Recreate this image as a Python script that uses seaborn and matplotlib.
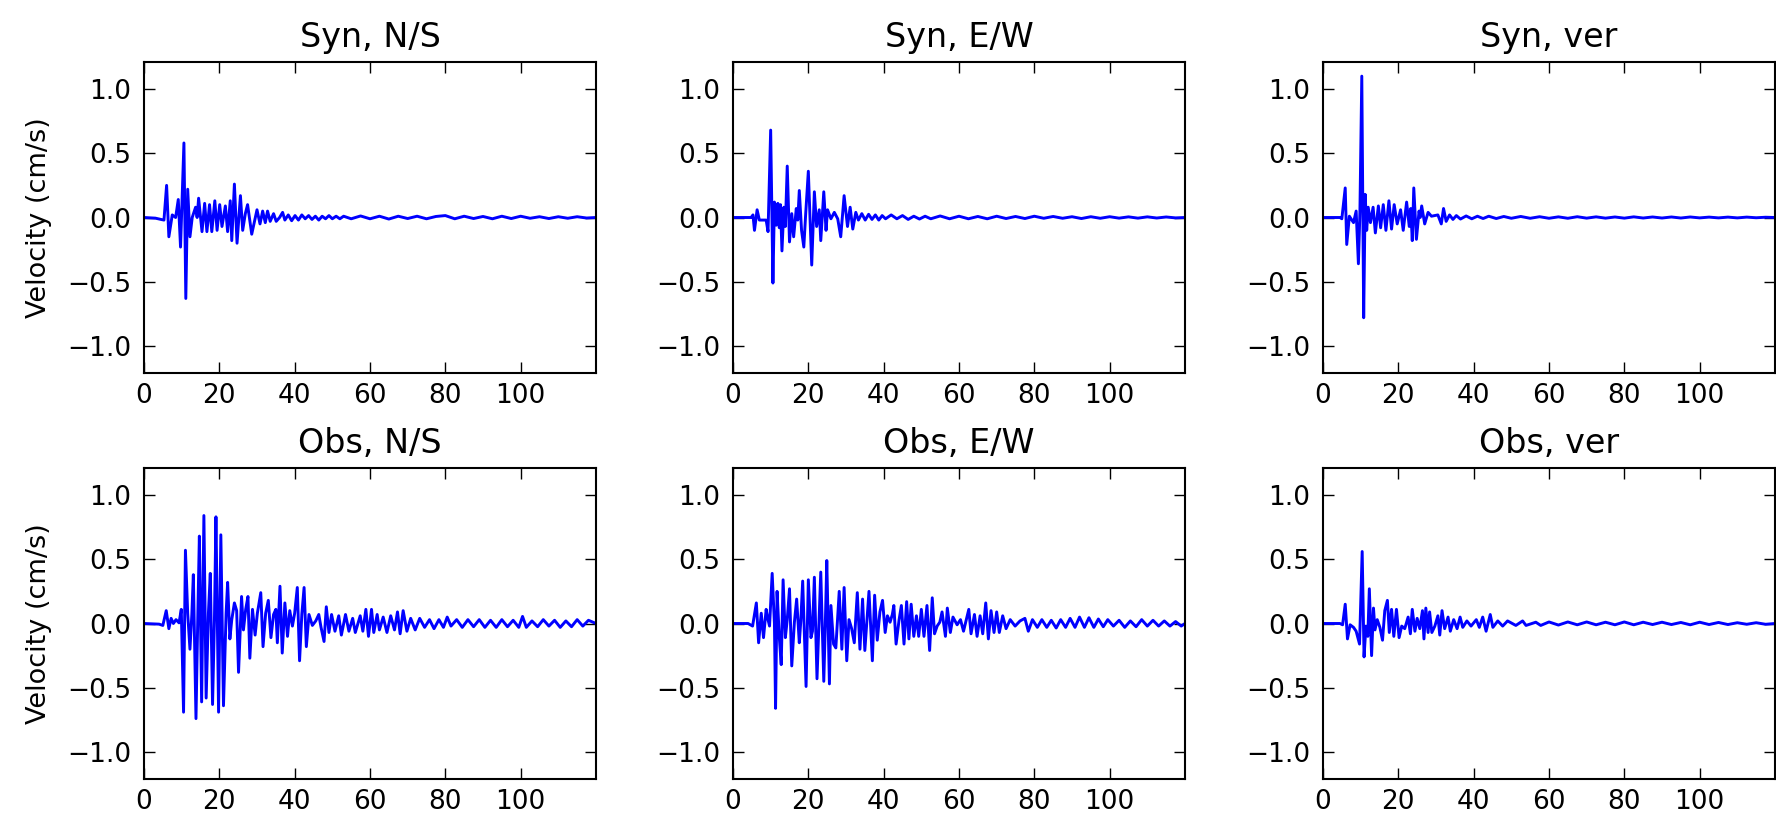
import numpy as np
import pandas as pd
import matplotlib
matplotlib.use("Agg")
import matplotlib.pyplot as plt
import seaborn as sns

# ---------------- data (time in s, velocity in cm/s) ----------------
syn_ns_t = [0, 3.0, 4.5, 5.3, 6.0, 6.6, 7.5, 8.4, 9.1, 9.7, 10.6, 11.1, 11.6, 12.2, 12.8, 13.7, 14.1, 14.5,
            15.4, 16.1, 16.7, 17.4, 18.0, 18.8, 19.4, 20.1, 20.7, 21.6, 22.2, 22.9, 23.3, 24.0, 24.7, 25.6,
            26.2, 26.9, 27.5, 28.6, 30.0, 30.8, 31.5, 32.2, 32.8, 33.5, 34.4, 35.1, 36.0, 36.8, 37.4, 38.3,
            39.2, 40.1, 41.0, 41.9, 42.8, 43.7, 44.6, 45.5, 46.4, 47.3, 48.2, 49.1, 50.0, 51.0, 52.0, 53.0,
            55.0, 57.5, 60.0, 62.5, 65.0, 67.5, 70.0, 72.5, 75.0, 77.5, 80.0, 82.5, 85.0, 87.5, 90.0, 92.5,
            95.0, 97.5, 100.0, 102.5, 105.0, 107.5, 110.0, 112.5, 115.0, 117.5, 120.0]
syn_ns_v = [0.0, -0.005, -0.015, -0.02, 0.25, -0.15, 0.02, 0.0, 0.14, -0.23, 0.58, -0.63, 0.22, -0.15, 0.0,
            0.08, 0.0, 0.15, -0.11, 0.11, -0.11, 0.10, -0.11, 0.13, -0.10, 0.10, -0.07, 0.09, -0.11, 0.13,
            -0.18, 0.26, -0.20, 0.17, -0.10, 0.03, 0.10, -0.13, 0.06, -0.05, 0.05, -0.04, 0.05, -0.03, 0.03,
            -0.03, 0.0, 0.04, -0.02, 0.02, -0.025, 0.015, -0.02, 0.02, -0.01, 0.015, -0.015, 0.01, -0.02,
            0.01, -0.01, 0.015, -0.01, 0.01, -0.01, 0.01, -0.01, 0.012, -0.01, 0.01, -0.012, 0.01, -0.008,
            0.01, -0.01, 0.008, 0.015, -0.01, 0.01, -0.008, 0.008, -0.01, 0.01, -0.008, 0.01, -0.006, 0.006,
            -0.008, 0.006, -0.006, 0.006, -0.004, 0.0]

syn_ew_t = [0, 4.8, 5.3, 5.7, 6.4, 7.0, 8.8, 9.3, 10.0, 10.6, 11.0, 11.5, 11.9, 12.3, 12.6, 13.0, 13.5, 13.9,
            14.4, 15.0, 15.6, 16.1, 16.8, 17.2, 17.6, 18.2, 18.8, 19.3, 20.0, 20.9, 21.6, 22.2, 22.9, 23.3,
            24.1, 24.7, 25.1, 26.0, 26.9, 27.8, 28.6, 29.5, 30.4, 31.1, 31.8, 32.6, 33.3, 34.2, 35.1, 36.0,
            36.9, 37.8, 38.7, 39.6, 40.5, 42.0, 43.5, 45.0, 46.5, 48.0, 49.5, 51.0, 52.5, 55.0, 57.5, 60.0,
            62.5, 65.0, 67.5, 70.0, 72.5, 75.0, 77.5, 80.0, 82.5, 85.0, 87.5, 90.0, 92.5, 95.0, 97.5, 100.0,
            102.5, 105.0, 107.5, 110.0, 112.5, 115.0, 117.5, 120.0]
syn_ew_v = [0.0, 0.0, 0.02, -0.10, 0.06, -0.02, -0.02, -0.11, 0.68, -0.51, 0.12, -0.06, 0.11, -0.08, 0.10,
            -0.26, 0.08, -0.07, 0.40, -0.19, 0.03, -0.15, 0.07, -0.02, 0.21, -0.10, -0.23, 0.03, 0.36, -0.37,
            0.20, -0.07, 0.06, -0.18, 0.20, -0.10, 0.06, -0.01, 0.04, -0.01, -0.15, 0.17, -0.07, 0.08, -0.09,
            0.04, -0.02, 0.03, -0.02, 0.025, -0.015, 0.02, -0.02, 0.015, -0.01, 0.02, -0.01, 0.015, -0.015,
            0.01, -0.012, 0.01, -0.01, 0.012, -0.01, 0.01, -0.01, 0.008, -0.01, 0.01, -0.008, 0.008, -0.008,
            0.01, -0.006, 0.008, -0.006, 0.006, -0.008, 0.006, -0.006, 0.006, -0.005, 0.005, -0.005, 0.005,
            -0.004, 0.004, -0.003, 0.0]

syn_ver_t = [0, 4.5, 5.0, 5.9, 6.3, 7.0, 8.1, 8.8, 9.4, 9.8, 10.3, 10.8, 11.2, 11.6, 12.0, 12.6, 13.3, 13.9,
             14.7, 15.3, 16.0, 16.7, 17.5, 18.2, 18.9, 19.7, 20.6, 21.3, 22.2, 22.9, 23.3, 23.7, 24.1, 24.8,
             25.5, 25.8, 26.2, 27.0, 27.9, 28.8, 30.5, 31.4, 32.0, 32.7, 33.6, 34.5, 35.4, 36.5, 38.0, 39.5,
             41.0, 42.5, 44.0, 46.0, 48.0, 50.0, 52.5, 55.0, 57.5, 60.0, 62.5, 65.0, 67.5, 70.0, 72.5, 75.0,
             77.5, 80.0, 82.5, 85.0, 87.5, 90.0, 92.5, 95.0, 97.5, 100.0, 102.5, 105.0, 107.5, 110.0, 112.5,
             115.0, 117.5, 120.0]
syn_ver_v = [0.0, 0.0, -0.01, 0.23, -0.21, 0.01, -0.04, 0.05, -0.36, 0.04, 1.10, -0.78, 0.18, -0.10, 0.08,
             -0.04, 0.08, -0.12, 0.09, -0.08, 0.10, -0.10, 0.13, -0.09, 0.10, -0.05, 0.06, -0.10, 0.12, -0.07,
             0.07, -0.18, 0.23, -0.17, 0.05, 0.0, 0.09, -0.05, 0.04, 0.01, 0.02, -0.05, 0.07, -0.03, 0.02,
             -0.015, 0.015, -0.012, 0.012, -0.01, 0.01, -0.008, 0.01, -0.008, 0.008, -0.006, 0.008, -0.006,
             0.006, -0.006, 0.005, -0.006, 0.006, -0.005, 0.005, -0.005, 0.004, -0.005, 0.005, -0.004, 0.004,
             -0.004, 0.004, -0.004, 0.004, -0.003, 0.003, -0.003, 0.003, -0.003, 0.003, -0.002, 0.002, 0.0]

obs_ns_t = [0, 4.0, 5.0, 5.9, 6.6, 7.2, 7.8, 8.5, 9.3, 9.9, 10.5, 11.0, 11.6, 12.2, 12.7, 13.1, 13.8, 14.3,
            14.7, 15.3, 15.9, 16.5, 17.1, 17.6, 18.2, 18.7, 19.1, 19.8, 20.4, 21.1, 21.8, 22.2, 22.8, 23.3,
            24.0, 24.6, 25.1, 25.9, 26.4, 27.0, 27.6, 28.1, 28.8, 29.5, 30.1, 31.0, 31.6, 32.3, 33.0, 33.7,
            34.4, 35.0, 35.4, 36.1, 36.7, 37.4, 38.1, 38.7, 39.4, 40.0, 40.7, 41.3, 41.9, 42.5, 43.1, 43.8,
            44.7, 45.6, 46.4, 47.0, 47.8, 48.4, 49.1, 49.8, 50.7, 51.7, 52.4, 53.5, 54.4, 55.4, 56.1, 57.4,
            58.1, 58.9, 59.6, 60.4, 61.0, 61.9, 62.5, 63.5, 64.5, 65.5, 66.5, 67.3, 68.0, 68.8, 69.8, 70.8,
            72.0, 73.2, 74.5, 75.8, 77.0, 78.3, 79.5, 80.5, 81.5, 83.0, 84.5, 86.0, 87.5, 89.0, 90.5, 92.0,
            93.5, 95.0, 96.5, 98.0, 99.5, 100.5, 101.5, 103.0, 104.5, 106.0, 107.5, 109.0, 110.5, 112.0,
            113.5, 115.0, 116.5, 118.0, 120.0]
obs_ns_v = [0.0, -0.005, -0.015, 0.10, -0.04, 0.04, 0.0, 0.03, 0.005, 0.11, -0.69, 0.57, 0.08, -0.20, 0.07,
            0.38, -0.74, 0.08, 0.68, -0.61, 0.84, -0.58, 0.08, 0.39, -0.63, 0.03, 0.83, -0.69, 0.69, -0.64,
            0.08, 0.32, -0.12, 0.03, 0.16, 0.10, -0.38, 0.21, -0.05, 0.11, 0.21, -0.27, 0.11, -0.09, 0.08,
            0.24, -0.18, 0.08, 0.18, -0.11, 0.07, 0.11, -0.15, 0.29, -0.23, 0.16, -0.10, 0.10, -0.02, 0.08,
            0.28, -0.29, 0.07, 0.28, -0.18, 0.07, -0.015, 0.02, 0.07, -0.03, -0.14, 0.13, -0.07, 0.07, -0.06,
            0.06, -0.09, 0.07, -0.06, 0.04, -0.07, 0.06, -0.06, 0.11, -0.10, 0.11, -0.07, 0.07, -0.05, 0.05,
            -0.07, 0.06, -0.05, 0.09, -0.08, 0.10, -0.06, 0.04, -0.05, 0.04, -0.03, 0.03, -0.04, 0.03, -0.03,
            0.05, -0.02, 0.03, -0.03, 0.03, -0.025, 0.03, -0.03, 0.025, -0.03, 0.03, -0.025, 0.025, -0.03,
            0.055, -0.03, 0.02, -0.025, 0.03, -0.02, 0.025, -0.03, 0.02, -0.025, 0.03, -0.02, 0.025, 0.0]

obs_ew_t = [0, 4.0, 5.2, 6.2, 6.8, 7.5, 8.1, 8.8, 9.3, 9.7, 10.4, 11.0, 11.3, 11.7, 12.3, 12.8, 13.3, 13.9,
            14.4, 15.0, 15.6, 16.3, 16.9, 17.6, 18.0, 18.5, 19.4, 20.0, 20.7, 21.1, 21.6, 22.3, 22.9, 23.3,
            24.1, 24.5, 24.9, 25.6, 26.0, 26.7, 27.3, 28.2, 28.9, 29.5, 30.2, 30.8, 31.5, 32.2, 33.0, 33.7,
            34.4, 35.0, 36.1, 37.0, 37.6, 38.3, 39.0, 39.7, 40.4, 41.0, 41.7, 42.3, 42.7, 43.3, 44.1, 44.7,
            45.4, 46.1, 46.7, 47.3, 48.0, 48.7, 49.3, 50.0, 50.7, 51.5, 52.2, 52.9, 53.5, 54.2, 54.9, 55.5,
            56.4, 56.9, 57.7, 58.4, 59.5, 60.4, 61.2, 62.6, 63.2, 64.1, 64.8, 65.6, 66.3, 67.1, 67.8, 68.5,
            69.3, 70.0, 70.7, 71.6, 72.5, 73.6, 74.9, 76.2, 77.5, 78.4, 79.5, 80.8, 82.0, 83.3, 84.5, 85.8,
            87.0, 88.3, 89.5, 90.8, 92.0, 93.3, 94.5, 95.8, 97.0, 98.3, 99.5, 101.0, 102.5, 104.0, 105.5,
            107.0, 108.5, 110.0, 111.5, 113.0, 114.5, 116.0, 117.5, 119.0, 120.0]
obs_ew_v = [0.0, 0.0, -0.02, 0.16, -0.15, 0.08, -0.11, 0.11, 0.03, -0.02, 0.39, 0.0, -0.66, 0.25, -0.11,
            -0.32, 0.34, -0.11, 0.03, 0.27, -0.33, 0.01, 0.19, -0.15, 0.02, 0.33, -0.49, 0.34, -0.11, -0.06,
            0.36, -0.43, 0.06, 0.40, -0.45, -0.02, 0.49, -0.47, 0.14, -0.16, -0.19, 0.25, -0.20, 0.28, -0.29,
            0.03, -0.04, -0.15, 0.24, -0.20, 0.19, -0.21, 0.25, -0.29, 0.22, -0.13, 0.09, 0.18, -0.07, 0.06,
            0.01, 0.07, 0.14, -0.16, 0.03, 0.14, -0.16, 0.17, -0.12, 0.15, -0.10, 0.06, -0.10, 0.11, -0.10,
            0.14, -0.21, 0.20, -0.08, -0.02, 0.01, 0.09, -0.10, 0.12, -0.07, 0.05, -0.01, 0.03, -0.06, 0.11,
            -0.08, 0.07, -0.10, 0.06, -0.08, 0.16, -0.12, 0.10, -0.07, 0.09, -0.07, 0.06, -0.04, 0.03, -0.02,
            0.02, 0.04, -0.06, 0.03, -0.03, 0.03, -0.03, 0.025, -0.035, 0.03, -0.03, 0.04, -0.03, 0.05, -0.03,
            0.045, -0.03, 0.035, -0.025, 0.03, -0.02, 0.025, -0.03, 0.02, -0.025, 0.03, -0.02, 0.025, -0.02,
            0.02, -0.02, 0.015, -0.02, 0.0]

obs_ver_t = [0, 4.5, 5.2, 5.9, 6.5, 7.2, 8.1, 8.8, 9.7, 10.4, 10.9, 11.4, 11.9, 12.3, 12.9, 13.4, 13.8, 14.4,
             15.1, 15.8, 16.4, 17.1, 17.6, 18.2, 18.8, 19.5, 20.2, 20.9, 21.7, 22.6, 23.2, 23.7, 24.4, 25.0,
             25.7, 26.4, 26.8, 27.3, 27.9, 28.3, 28.9, 29.7, 30.5, 31.0, 31.6, 32.3, 33.2, 33.8, 34.7, 35.6,
             36.4, 37.1, 38.2, 39.3, 40.7, 41.5, 42.4, 43.3, 44.4, 45.1, 46.4, 47.7, 49.0, 51.2, 53.0, 53.9,
             56.5, 57.8, 60.0, 62.5, 65.0, 67.5, 70.0, 72.5, 75.0, 77.5, 80.0, 82.5, 85.0, 87.5, 90.0, 92.5,
             95.0, 97.5, 100.0, 102.5, 105.0, 107.5, 110.0, 112.5, 115.0, 117.5, 120.0]
obs_ver_v = [0.0, 0.0, -0.01, 0.15, -0.12, -0.01, -0.03, -0.06, -0.16, 0.56, -0.26, -0.02, -0.10, 0.27,
             -0.25, 0.12, -0.05, 0.03, -0.03, -0.13, 0.10, 0.18, -0.07, 0.11, -0.10, 0.11, -0.11, -0.02,
             -0.04, 0.05, -0.08, 0.11, -0.06, 0.04, -0.04, 0.10, -0.12, 0.12, -0.07, 0.09, -0.07, -0.02, 0.06,
             -0.09, 0.10, -0.04, 0.05, -0.06, 0.03, -0.04, 0.05, -0.03, 0.02, -0.02, 0.03, -0.03, 0.05, -0.06,
             0.07, -0.03, 0.02, -0.02, 0.02, -0.015, 0.02, -0.015, 0.01, -0.015, 0.012, -0.012, 0.012, -0.01,
             0.012, -0.01, 0.01, -0.01, 0.012, -0.01, 0.01, -0.008, 0.01, -0.008, 0.008, -0.01, 0.01, -0.008,
             0.008, -0.008, 0.006, -0.006, 0.006, -0.006, 0.0]

titles = ["Syn, N/S", "Syn, E/W", "Syn, ver", "Obs, N/S", "Obs, E/W", "Obs, ver"]
traces = [(syn_ns_t, syn_ns_v), (syn_ew_t, syn_ew_v), (syn_ver_t, syn_ver_v),
          (obs_ns_t, obs_ns_v), (obs_ew_t, obs_ew_v), (obs_ver_t, obs_ver_v)]
xticks = [0, 20, 40, 60, 80, 100]
yticks = [-1.0, -0.5, 0.0, 0.5, 1.0]
ylabel = "Velocity (cm/s)"

# ---------------- style ----------------
sns.set_style("ticks")
plt.rcParams.update({
    "font.family": ["DejaVu Sans"],
    "xtick.direction": "in", "ytick.direction": "in",
    "xtick.top": True, "ytick.right": True,
    "axes.edgecolor": "black", "axes.linewidth": 1.5,
    "xtick.color": "black", "ytick.color": "black",
    "text.color": "black", "axes.labelcolor": "black",
})

W, H = 1776, 819
fig = plt.figure(figsize=(W / 100, H / 100), dpi=100)

col_left = [144, 733, 1323]
row_top = [62, 468]
ax_w, ax_h = 452, 311

for i, (title, (t, v)) in enumerate(zip(titles, traces)):
    r, c = divmod(i, 3)
    n = min(len(t), len(v))
    left = col_left[c] / W
    bottom = 1 - (row_top[r] + ax_h) / H
    ax = fig.add_axes([left, bottom, ax_w / W, ax_h / H])
    df = pd.DataFrame({"t": t[:n], "v": v[:n]})
    sns.lineplot(data=df, x="t", y="v", ax=ax, color="#0000ff", linewidth=2.1,
                 estimator=None, sort=False)
    ax.set_xlim(0, 120)
    ax.set_ylim(-1.21, 1.21)
    ax.set_xticks(xticks)
    ax.set_yticks(yticks)
    ax.set_xticklabels([str(x) for x in xticks])
    ax.set_yticklabels([f"{y:.1f}".replace("-", "\u2212") for y in yticks])
    ax.tick_params(axis="both", which="major", length=8, width=1.0, labelsize=19, pad=7)
    ax.tick_params(axis="y", pad=9)
    ax.set_xlabel("")
    ax.set_ylabel(ylabel if c == 0 else "", fontsize=19.5, labelpad=11)
    ax.set_title(title, fontsize=24, pad=11)
    for s in ax.spines.values():
        s.set_visible(True)
        s.set_color("black")

fig.savefig("out.png", dpi=100)
